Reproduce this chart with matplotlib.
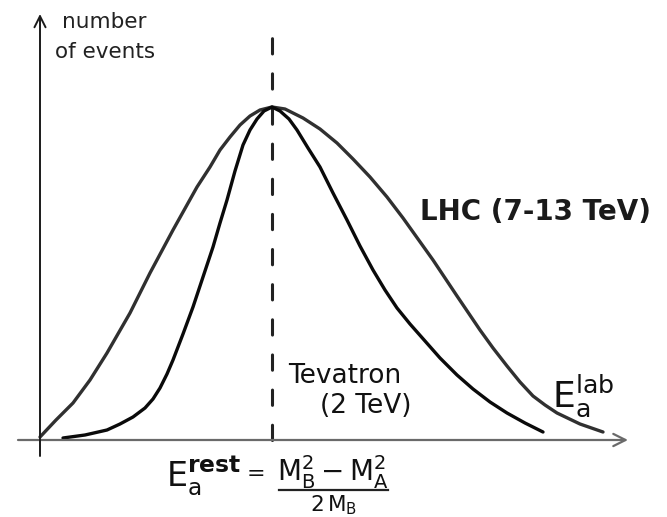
import matplotlib
matplotlib.use("Agg")
import matplotlib.pyplot as plt

plt.rcParams["font.family"] = ["DejaVu Sans"]
plt.rcParams["mathtext.fontset"] = "dejavusans"

# energy axis (arbitrary units) and event counts above the baseline
lhc_e = [40, 56, 73, 90, 107, 130, 150, 173, 197, 210, 220, 230, 240, 250,
         260, 272, 285, 303, 320, 337, 353, 370, 387, 403, 418, 433, 457,
         480, 493, 507, 520, 533, 545, 557, 580, 603]
lhc_n = [3, 20, 37, 60, 87, 127, 167, 210, 253, 273, 290, 303, 315, 324,
         330, 333, 331, 322, 311, 297, 281, 263, 243, 222, 201, 180, 144,
         110, 92, 74, 58, 44, 35, 27, 16, 8]

tev_e = [63, 85, 107, 120, 133, 145, 153, 160, 167, 173, 183, 193, 203, 213,
         220, 227, 235, 243, 250, 257, 264, 272, 280, 289, 297, 308, 320,
         333, 347, 360, 373, 385, 397, 410, 425, 440, 457, 473, 490, 507,
         525, 543]
tev_n = [2, 5, 10, 16, 23, 32, 41, 52, 66, 80, 106, 133, 163, 193, 217, 240,
         269, 295, 310, 321, 329, 333, 329, 321, 310, 292, 273, 247, 220,
         194, 170, 150, 132, 116, 99, 82, 65, 51, 38, 27, 17, 8]

e_rest = 272

fig = plt.figure(figsize=(6.67, 5.17), dpi=100)
ax = fig.add_axes([0, 0, 1, 1])
ax.set_xlim(0, 667)
ax.set_ylim(-77, 440)
ax.axis("off")

# axes with open arrow heads
ax.annotate("", xy=(628, 0), xytext=(18, 0),
            arrowprops=dict(arrowstyle="->", color="#6a6a6a", lw=1.6,
                            mutation_scale=22, shrinkA=0, shrinkB=0))
ax.annotate("", xy=(40, 426), xytext=(40, -16),
            arrowprops=dict(arrowstyle="->", color="#1a1a1a", lw=1.4,
                            mutation_scale=20, shrinkA=0, shrinkB=0))

# rest-frame energy marker
ax.plot([e_rest, e_rest], [0, 410], color="#222222", lw=2.2,
        linestyle=(0, (5, 6.5)), solid_capstyle="round", dash_capstyle="round")

ax.plot(lhc_e, lhc_n, color="#303030", lw=2.4, solid_joinstyle="round",
        solid_capstyle="round")
ax.plot(tev_e, tev_n, color="#0a0a0a", lw=2.4, solid_joinstyle="round",
        solid_capstyle="round")

# labels
ax.text(62, 412, "number", fontsize=15.5, color="#222222", va="baseline")
ax.text(55, 382, "of events", fontsize=15.5, color="#222222", va="baseline")

ax.text(420, 220, "LHC (7-13 TeV)", fontsize=20, fontweight="bold",
        color="#1a1a1a", va="baseline")
ax.text(288, 57, "Tevatron", fontsize=19, color="#111111", va="baseline")
ax.text(320, 27, "(2 TeV)", fontsize=19, color="#111111", va="baseline")

ax.text(552, 33, r"$\mathrm{E}_{\mathrm{a}}^{\mathrm{lab}}$", fontsize=26,
        color="#111111", va="baseline")

# E_a^rest = (M_B^2 - M_A^2) / 2M_B
ax.text(166, -46, r"$\mathrm{E}_{\mathrm{a}}^{\mathbf{rest}}$", fontsize=24,
        color="#111111", va="baseline")
ax.text(256, -40, "=", fontsize=16, color="#111111", ha="center", va="baseline")
ax.text(333, -41, r"$\mathrm{M}_{\mathrm{B}}^{2}-\mathrm{M}_{\mathrm{A}}^{2}$",
        fontsize=20, color="#111111", ha="center", va="baseline")
ax.plot([279, 388], [-50, -50], color="#222222", lw=1.6)
ax.text(334, -71, r"$2\,\mathrm{M}_{\mathrm{B}}$", fontsize=15.5,
        color="#111111", ha="center", va="baseline")

fig.savefig("out.png", dpi=100)
